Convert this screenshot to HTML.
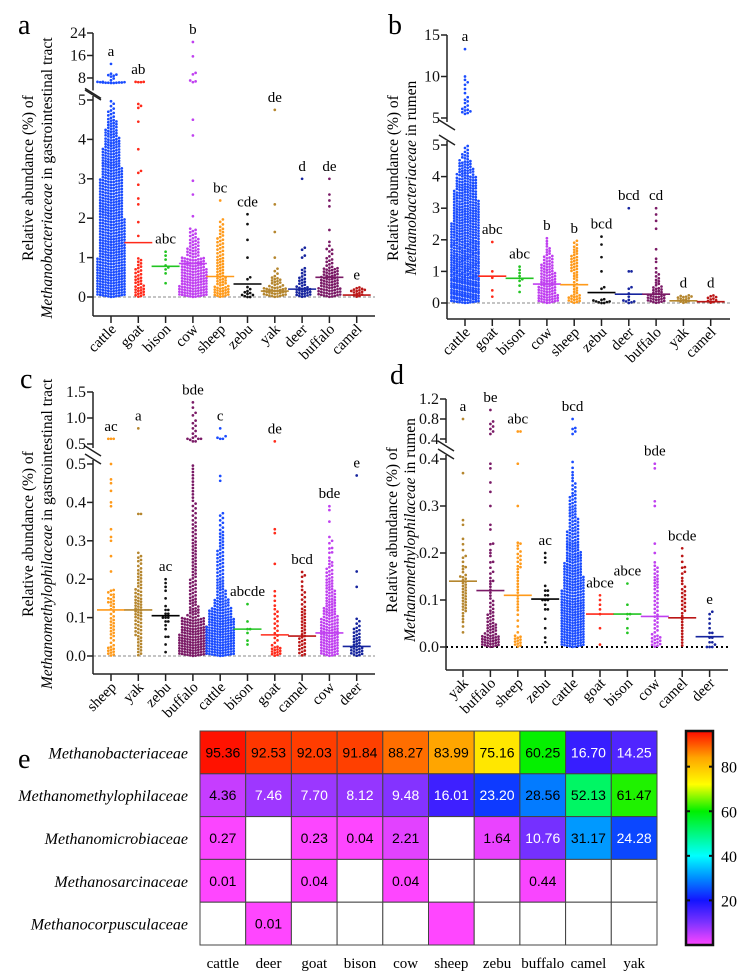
<!DOCTYPE html>
<html><head><meta charset="utf-8">
<style>
html,body{margin:0;padding:0;background:#fff;}
svg{display:block;}
text{font-family:"Liberation Serif",serif;}
text.num{font-family:"Liberation Sans Narrow","Liberation Sans",sans-serif;}
</style></head>
<body>
<svg id="fig" width="750" height="975" viewBox="0 0 750 975" xmlns="http://www.w3.org/2000/svg"></svg>
<script>
// ---------- Panel a: Methanobacteriaceae, GI tract ----------
const aCats=["cattle","goat","bison","cow","sheep","zebu","yak","deer","buffalo","camel"];
const aLetters=["a","ab","abc","b","bc","cde","de","d","de","e"];
const aMeans=[null,1.38,0.78,0.85,0.52,0.33,0.15,0.2,0.5,0.05];
const aHist=[[40,40,40,38,36,36,34,34,32,32,30,30,28,26,24,22,18,14,8,4],[14,10,8,6],[],[40,36,34,30,16,12,8],[22,14,10,10,8,8,6,4],[],[30,14,4],[22,10,6],[30,24,20,8,4],[14]];
const aExtra=[[6.2,6.3,6.4,6.5,6.3,6.6,6.4,6.2,6.5,6.3,6.4,6.6,7.2,7.8,8.5,9,9.5,9.2,8.8,13],[1.55,1.9,2.35,2.5,2.85,3.15,3.2,3.75,4.45,4.8,4.9,4.85,6.5,6.5,6.6,6.6],[0.35,0.6,0.7,0.75,0.8,0.95,1.05,1.15],[2.05,2.6,2.95,4.1,4.5,6.5,6.8,7.1,9.3,9.8,15.7,20.8],[2.45],[0,0,0.02,0.05,0.05,0.08,0.1,0.12,0.15,0.2,0.25,0.45,0.5,1.0,1.45,1.85,2.1],[1.0,1.65,2.35,4.75],[1.0,1.05,1.2,1.25,3.0],[1.2,1.3,1.4,1.7,2.3,2.45,2.6,3.0],[0.15,0.18]];
const aUpperTicks=[8,16,24];
const aLowerTicks=[0,1,2,3,4,5];
// ---------- Panel b: Methanobacteriaceae, rumen ----------
const bCats=["cattle","goat","bison","cow","sheep","zebu","deer","buffalo","yak","camel"];
const bLetters=["a","abc","abc","b","b","bcd","bcd","cd","d","d"];
const bMeans=[null,0.85,0.78,0.6,0.58,0.33,0.28,0.28,0.07,0.04];
const bHist=[[40,40,40,38,36,36,34,34,32,32,30,30,28,26,24,22,18,14,8,4],[],[],[24,20,18,16,14,10,6,3],[14,6,4,6,8,8,6,4],[],[],[20,12,6,4],[14],[10]];
const bExtra=[[5.5,5.6,5.7,5.8,5.9,6,6.1,6.3,6.5,6.8,7,7.2,7.5,8,8.5,9,9.3,9.6,10,13.3],[0.2,0.4,0.8,1.0,1.93],[0.35,0.55,0.7,0.75,0.85,0.95,1.05,1.15],[2.05],[],[0,0,0.02,0.03,0.05,0.05,0.08,0.1,0.12,0.45,0.5,1.0,1.45,1.85,2.1],[0,0.02,0.05,0.05,0.08,0.1,0.2,0.3,0.45,0.5,1.0,1.0,3.0],[1.1,1.3,1.4,1.7,2.35,2.6,2.8,3.0],[0.2],[]];
const bUpperTicks=[5,10,15];
const bLowerTicks=[0,1,2,3,4,5];
// ---------- Panel c: Methanomethylophilaceae, GI tract ----------
const cCats=["sheep","yak","zebu","buffalo","cattle","bison","goat","camel","cow","deer"];
const cLetters=["ac","a","ac","bde","c","abcde","de","bcd","bde","e"];
const cMeans=[0.12,0.12,0.105,null,null,0.07,0.055,0.052,0.06,0.025];
const cHist=[[10,4,6,6,4,6,4],[6,6,8,8,10,10,8,6,6,4,2],[],[40,40,36,30,14,10,8,8,6,6,6,6,5,5,4,4,3,3,3,3],[40,40,40,36,30,20,12,10,8,8,8,6,6,4,4,0,0,0,2],[],[14,4,4,4,4,2,2],[8,8,6,6,6,4,4,2,2],[24,24,24,22,18,14,12,10,8,6,2,2],[16,10,8,4]];
const cExtra=[[0.15,0.16,0.14,0.17,0.22,0.26,0.3,0.31,0.33,0.39,0.4,0.43,0.45,0.46,0.5,0.6,0.6,0.6],[0.37,0.37,0.25,0.26,0.8],[0.01,0.03,0.05,0.05,0.07,0.08,0.09,0.09,0.1,0.1,0.1,0.11,0.11,0.12,0.12,0.13,0.15,0.17,0.18,0.19,0.2],[0.55,0.55,0.6,0.6,0.65,0.7,0.75,0.8,0.85,0.9,0.95,1.05,1.1,1.2,1.3,0.6,0.62,0.58],[0.6,0.6,0.62,0.65,0.8],[0.03,0.04,0.06,0.07,0.07,0.09,0.135],[0.24,0.32,0.33,0.55],[0.21],[0.3,0.31,0.35,0.38,0.39,0.28,0.27],[0.18,0.22,0.47]];
const cUpperTicks=[0.5,1.0,1.5];
const cLowerTicks=[0,0.1,0.2,0.3,0.4,0.5];
// ---------- Panel d: Methanomethylophilaceae, rumen ----------
const dCats=["yak","buffalo","sheep","zebu","cattle","goat","bison","cow","camel","deer"];
const dLetters=["a","be","abc","ac","bcd","abce","abce","bde","bcde","e"];
const dMeans=[0.14,0.12,0.11,0.102,null,0.07,0.07,0.065,0.062,0.022];
const dHist=[[0,2,4,8,8,8,4,2,2],[30,16,10,6,4,4,2,2,2],[12,2,2,4,4,4,4,6,4],[],[40,40,40,40,36,34,30,26,22,18,14,12,10,6,4,2],[],[],[14,6,6,6,6,8,6],[4,4,4,6,6,4,2,2],[]];
const dExtra=[[0.26,0.27,0.23,0.19,0.17,0.15,0.37,0.8],[0.26,0.25,0.3,0.33,0.35,0.38,0.39,0.22,0.2,0.18,0.16,0.14,0.5,0.55,0.6,0.65,0.7,0.75,0.98],[0.17,0.22,0.3,0.39,0.55,0.55],[0.01,0.02,0.04,0.06,0.08,0.08,0.09,0.1,0.1,0.1,0.11,0.11,0.12,0.12,0.13,0.18,0.19,0.2],[0.5,0.55,0.6,0.62,0.8],[0.005,0.04,0.07,0.08,0.09,0.1,0.11],[0.03,0.04,0.06,0.07,0.07,0.09,0.135],[0.18,0.2,0.22,0.3,0.31,0.38,0.39],[0.21,0.17,0.16],[0,0,0,0.005,0.01,0.01,0.02,0.02,0.03,0.03,0.04,0.05,0.06,0.07,0.075]];
const dUpperTicks=[0.4,0.8,1.2];
const dLowerTicks=[0,0.1,0.2,0.3,0.4];
// ---------- Panel e: heatmap ----------
const eCols=["cattle","deer","goat","bison","cow","sheep","zebu","buffalo","camel","yak"];
const eRows=["Methanobacteriaceae","Methanomethylophilaceae","Methanomicrobiaceae","Methanosarcinaceae","Methanocorpusculaceae"];
const eVals=[
[95.36,92.53,92.03,91.84,88.27,83.99,75.16,60.25,16.70,14.25],
[4.36,7.46,7.70,8.12,9.48,16.01,23.20,28.56,52.13,61.47],
[0.27,null,0.23,0.04,2.21,null,1.64,10.76,31.17,24.28],
[0.01,null,0.04,null,0.04,null,null,0.44,null,null],
[null,0.01,null,null,null,0.004,null,null,null,null]];
const eBarTicks=[20,40,60,80];

const colorOf={cattle:"#1a4cff",goat:"#ff2a1a",bison:"#22c422",cow:"#c040f0",sheep:"#ff9a1a",zebu:"#111111",yak:"#b5862e",deer:"#16249e",buffalo:"#7a1a66",camel:"#bb1616"};

const NS="http://www.w3.org/2000/svg";
const fig=document.getElementById('fig');
function mk(tag,attrs,parent){const e=document.createElementNS(NS,tag);for(const k in attrs)e.setAttribute(k,attrs[k]);(parent||fig).appendChild(e);return e;}

function makeScale(L){
  return function(v){
    if(v<=L.lowMax) return L.y0+(L.yLowTop-L.y0)*(v/L.lowMax);
    return L.yUpB+(L.yUpTop-L.yUpB)*((v-L.upMin)/(L.upMax-L.upMin));
  };
}

function drawPanel(L,cats,letters,means,hist,extra,upT,lowT){
  const g=mk('g',{});
  
  
  const y=makeScale(L);
  const xs=i=>L.x0+i*L.dx;
  const pl=mk('text',{x:L.letterX,y:L.letterY,'font-size':28},g);
  
  
  pl.textContent=L.letter;
  const zl=mk('line',{x1:L.ax,x2:L.axEnd,y1:y(0),y2:y(0),stroke:L.zeroDot?'#000':'#888','stroke-width':L.zeroDot?2:1,'stroke-dasharray':L.zeroDot?'2,3':'3,2'},g);
  
  
  const axg=mk('g',{stroke:'#222','stroke-width':1.5,fill:'none'},g);
  
  
  mk('line',{x1:L.ax,x2:L.ax,y1:y(L.upMax),y2:L.yUpB+4},axg);
  mk('line',{x1:L.ax,x2:L.ax,y1:L.yLowTop-4,y2:L.axBottom},axg);
  mk('line',{x1:L.ax-8,x2:L.ax+8,y1:L.yUpB+2,y2:L.yUpB+12},axg);
  mk('line',{x1:L.ax-8,x2:L.ax+8,y1:L.yLowTop-10,y2:L.yLowTop},axg);
  mk('line',{x1:L.ax,x2:L.axEnd,y1:L.axBottom,y2:L.axBottom},axg);
  upT.concat(lowT).forEach((t,k)=>{
    const isUp=k<upT.length;
    const yy=isUp?L.yUpB+(L.yUpTop-L.yUpB)*((t-L.upMin)/(L.upMax-L.upMin)):y(t);
    mk('line',{x1:L.ax-6,x2:L.ax,y1:yy,y2:yy},axg);
    const tx=mk('text',{x:L.ax-7,y:yy+5,'font-size':16,'text-anchor':'end',fill:'#111',stroke:'none'},g);
    
    
    tx.textContent=L.dec?t.toFixed(L.dec):String(t);
  });
  const t1=mk('text',{transform:`translate(${L.t1x},${L.ty}) rotate(-90)`,'font-size':15.5,'text-anchor':'middle'},g);
  
  
  t1.textContent='Relative abundance (%) of';
  const t2=mk('text',{transform:`translate(${L.t2x},${L.ty}) rotate(-90)`,'font-size':15.5,'text-anchor':'middle'},g);
  
  
  const it=mk('tspan',{'font-style':'italic'},t2);it.textContent=L.taxon;
  const rest=mk('tspan',{},t2);rest.textContent=' in '+L.site;
  cats.forEach((c,i)=>{
    const cx=xs(i), col=colorOf[c];
    const gg=mk('g',{fill:col},g);
    
    
    mk('line',{x1:cx,x2:cx,y1:L.axBottom,y2:L.axBottom+7,stroke:'#222','stroke-width':1.5},g);
    const lb=mk('text',{transform:`translate(${cx+6},${L.axBottom+14}) rotate(-45)`,'font-size':15,'text-anchor':'end'},g);
    
    
    lb.textContent=c;
    const vals=[];
    hist[i].forEach((n,b)=>{for(let k=0;k<n;k++)vals.push(b*L.bin+(k+0.5)/n*L.bin);});
    extra[i].forEach(v=>vals.push(v));
    const ys=vals.map(v=>y(v)).sort((p,q)=>q-p);
    const placed=[];const d=2.7,W=14;
    ys.forEach((py,idx)=>{
      let off=null;
      for(let s=0;s<=Math.floor(W/d)*2;s++){
        const o=(s%2?1:-1)*Math.ceil(s/2)*d;
        let ok=true;
        for(let j=placed.length-1;j>=0;j--){const p=placed[j];if(p[1]-py>d)break;const dx=p[0]-o,dy=p[1]-py;if(dx*dx+dy*dy<d*d*0.95){ok=false;break;}}
        if(ok){off=o;break;}
      }
      if(off===null)off=((idx*7)%11-5)*d;
      placed.push([off,py]);
      const dot=mk('circle',{cx:cx+off,cy:py,r:1.35},gg);
      
      
    });
    const minY=Math.min.apply(null,ys);
    if(means[i]!==null){
      const ml=mk('line',{x1:cx-14,x2:cx+14,y1:y(means[i]),y2:y(means[i]),stroke:(c==='zebu'?'#000':col),'stroke-width':1.6},g);
      
      
    }
    const lt=mk('text',{x:cx,y:minY-8,'font-size':15,'text-anchor':'middle'},g);
    
    
    lt.textContent=letters[i];
  });
}

drawPanel({name:'panel-a',letter:'a',letterX:18,letterY:34,ax:93,axEnd:375,axBottom:316,x0:111,dx:27.3,
  y0:297,yLowTop:100,lowMax:5,yUpB:86.4,upMin:5,yUpTop:33,upMax:24,bin:0.25,t1x:33,t2x:52,ty:178,
  taxon:'Methanobacteriaceae',site:'gastrointestinal tract'},aCats,aLetters,aMeans,aHist,aExtra,aUpperTicks,aLowerTicks);
drawPanel({name:'panel-b',letter:'b',letterX:388,letterY:34,ax:447,axEnd:730,axBottom:319,x0:465,dx:27.3,
  y0:303,yLowTop:145,lowMax:5,yUpB:118,upMin:5,yUpTop:35,upMax:15,bin:0.25,t1x:398,t2x:416,ty:178,
  taxon:'Methanobacteriaceae',site:'rumen'},bCats,bLetters,bMeans,bHist,bExtra,bUpperTicks,bLowerTicks);
drawPanel({name:'panel-c',letter:'c',letterX:20,letterY:388,ax:93,axEnd:375,axBottom:674,x0:111,dx:27.3,
  y0:656,yLowTop:464,lowMax:0.5,yUpB:444,upMin:0.5,yUpTop:392,upMax:1.5,bin:0.025,dec:1,t1x:33,t2x:52,ty:534,
  taxon:'Methanomethylophilaceae',site:'gastrointestinal tract'},cCats,cLetters,cMeans,cHist,cExtra,cUpperTicks,cLowerTicks);
drawPanel({name:'panel-d',letter:'d',letterX:390,letterY:384,ax:446,axEnd:728,axBottom:670,x0:463,dx:27.4,zeroDot:true,
  y0:647,yLowTop:459,lowMax:0.4,yUpB:439,upMin:0.4,yUpTop:399,upMax:1.2,bin:0.025,dec:1,t1x:397,t2x:415,ty:530,
  taxon:'Methanomethylophilaceae',site:'rumen'},dCats,dLetters,dMeans,dHist,dExtra,dUpperTicks,dLowerTicks);

// ---------- heatmap ----------
const stops=[[0,[255,70,255]],[10,[125,50,255]],[20,[20,20,255]],[30,[0,140,255]],[40,[0,255,255]],[60,[0,240,0]],[72,[255,255,0]],[84,[255,165,0]],[96,[255,10,0]]];
function cmap(v){
  for(let i=1;i<stops.length;i++){if(v<=stops[i][0]){const a=stops[i-1],b=stops[i];const t=(v-a[0])/(b[0]-a[0]);
    const c=a[1].map((x,k)=>Math.round(x+(b[1][k]-x)*t));return `rgb(${c[0]},${c[1]},${c[2]})`;}}
  return 'rgb(255,10,0)';
}
const hx0=200,hy0=731,cw=45.7,ch=42.8,vMax=96;
const hg=mk('g',{});


const el=mk('text',{x:18,y:768,'font-size':28},hg);


el.textContent='e';
eRows.forEach((r,ri)=>{
  const rl=mk('text',{x:188,y:hy0+ri*ch+ch/2+6,'font-size':16,'font-style':'italic','text-anchor':'end'},hg);
  
  
  rl.textContent=r;
  eCols.forEach((c,ci)=>{
    const v=eVals[ri][ci];
    const cell=mk('rect',{x:hx0+ci*cw,y:hy0+ri*ch,width:cw,height:ch,fill:v===null?'#fff':cmap(v),stroke:'#444','stroke-width':1},hg);
    
    
    if(v!==null&&v>=0.01){
      const tv=mk('text',{class:'num',x:hx0+ci*cw+cw/2,y:hy0+ri*ch+ch/2+5,'font-size':14,'text-anchor':'middle',fill:(v>5&&v<25)?'#fff':'#000'},hg);
      
      
      tv.textContent=v.toFixed(2);
    }
  });
});
eCols.forEach((c,ci)=>{
  const cl=mk('text',{x:hx0+ci*cw+cw/2,y:968,'font-size':15,'text-anchor':'middle'},hg);
  
  
  cl.textContent=c;
});
const defs=mk('defs',{});
const lg=mk('linearGradient',{id:'cbg',x1:0,y1:1,x2:0,y2:0},defs);
stops.forEach(s=>mk('stop',{offset:(s[0]/vMax),'stop-color':cmap(s[0])},lg));
const by0=731,by1=945,bx=686,bw=27;
const cb=mk('rect',{x:bx,y:by0,width:bw,height:by1-by0,fill:'url(#cbg)',stroke:'#111','stroke-width':2.5},hg);


eBarTicks.forEach(t=>{
  const yy=by1-(t/vMax)*(by1-by0);
  mk('line',{x1:bx,x2:bx+4,y1:yy,y2:yy,stroke:'#111','stroke-width':2},hg);
  mk('line',{x1:bx+bw-4,x2:bx+bw,y1:yy,y2:yy,stroke:'#111','stroke-width':2},hg);
  const tl=mk('text',{x:721,y:yy+6,'font-size':16},hg);
  
  
  tl.textContent=t;
});
</script>
</body></html>
